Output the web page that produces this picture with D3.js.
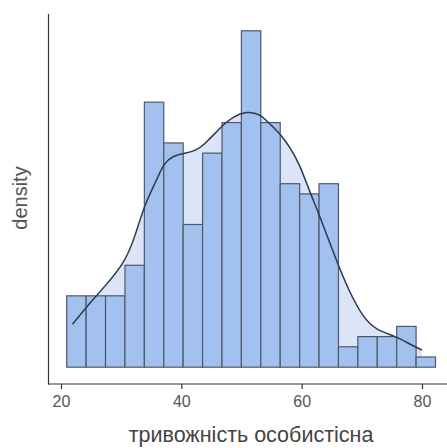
<!DOCTYPE html>
<html>
<head>
<meta charset="utf-8">
<script src="https://cdn.jsdelivr.net/npm/d3@7"></script>
<style>
  body { margin: 0; background: #fff; }
  svg { display: block; font-family: "Liberation Sans", Arial, sans-serif; }
</style>
</head>
<body>
<svg></svg>
<script>
// Chart size
const width = 447, height = 448;

// Histogram: bins start at 20.95, each 3.226 wide, counts per bin
const binStart = 20.95;
const binWidth = 3.226;
const counts = [7, 7, 7, 10, 26, 22, 14, 21, 24, 33, 24, 18, 17, 18, 2, 3, 3, 4, 1];
const total = d3.sum(counts);

// Density curve (x value, density)
const densX = [21.9, 24.2, 27.4, 30.6, 32.3, 33.8, 35.9, 37.1, 38.6, 40.3, 42.5, 44.2, 46.7, 48.6, 50.8, 53.0, 55.2, 56.5, 58.0, 59.7, 61.3, 62.8, 66.1, 68.0, 70.2, 72.4, 75.7, 77.9, 80.0];
const densY = [0.0050, 0.0070, 0.0095, 0.0122, 0.0152, 0.0188, 0.0218, 0.0238, 0.0246, 0.0249, 0.0252, 0.0262, 0.0281, 0.0292, 0.0298, 0.0296, 0.0280, 0.0271, 0.0257, 0.0236, 0.0205, 0.0180, 0.0118, 0.0087, 0.0058, 0.0043, 0.0036, 0.0027, 0.0020];

const xTicks = [20, 40, 60, 80];

const bins = counts.map((c, i) => ({
    x0: binStart + i * binWidth,
    x1: binStart + (i + 1) * binWidth,
    d: c / (total * binWidth)
}));
const dens = densX.map((x, i) => ({ x: x, y: densY[i] }));

const svg = d3.select("svg")
    .attr("width", width)
    .attr("height", height);

// Scales (ggplot-like 5% padding on y)
const xScale = d3.scaleLinear().domain([20, 80]).range([61, 422]);
const maxD = d3.max(bins, b => b.d);
const yScale = d3.scaleLinear().domain([-0.05 * maxD, 1.05 * maxD]).range([384, 14]);

// Density area behind the bars
svg.append("path")
    .datum(dens)
    .attr("fill", "#dbe5f7")
    .attr("d", d3.area()
        .x(d => xScale(d.x))
        .y0(yScale(0))
        .y1(d => yScale(d.y))
        .curve(d3.curveBasis));

// Bars
svg.selectAll("rect.bar")
    .data(bins)
    .enter().append("rect")
    .attr("class", "bar")
    .attr("x", d => xScale(d.x0))
    .attr("y", d => yScale(d.d))
    .attr("width", d => xScale(d.x1) - xScale(d.x0))
    .attr("height", d => yScale(0) - yScale(d.d))
    .attr("fill", "#a3c1ef")
    .attr("stroke", "#4f5868")
    .attr("stroke-width", 1.2);

// Density line
svg.append("path")
    .datum(dens)
    .attr("fill", "none")
    .attr("stroke", "#2c3a4e")
    .attr("stroke-width", 1.5)
    .attr("d", d3.line()
        .x(d => xScale(d.x))
        .y(d => yScale(d.y))
        .curve(d3.curveBasis));

// Axes
svg.append("line")
    .attr("x1", 48.5).attr("x2", 48.5)
    .attr("y1", 14).attr("y2", 384.5)
    .attr("stroke", "#333").attr("stroke-width", 1.2);

const xAxis = svg.append("g")
    .attr("transform", "translate(0,384)")
    .call(d3.axisBottom(xScale).tickValues(xTicks).tickSize(5).tickSizeOuter(0));
xAxis.select(".domain").remove();
xAxis.append("line")
    .attr("x1", 48).attr("x2", width)
    .attr("stroke", "#333").attr("stroke-width", 1.2);
xAxis.selectAll(".tick line").attr("stroke", "#333").attr("stroke-width", 1.2);
xAxis.selectAll(".tick text")
    .attr("y", 12)
    .attr("fill", "#555")
    .style("font-size", "16px")
    .style("font-family", "Liberation Sans, Arial, sans-serif");

// Axis labels
svg.append("text")
    .attr("x", 251)
    .attr("y", 442)
    .attr("text-anchor", "middle")
    .attr("fill", "#444")
    .style("font-size", "21.5px")
    .text("тривожність особистісна");

svg.append("text")
    .attr("transform", "rotate(-90)")
    .attr("x", -198)
    .attr("y", 27)
    .attr("text-anchor", "middle")
    .attr("fill", "#555")
    .style("font-size", "20px")
    .text("density");
</script>
</body>
</html>
